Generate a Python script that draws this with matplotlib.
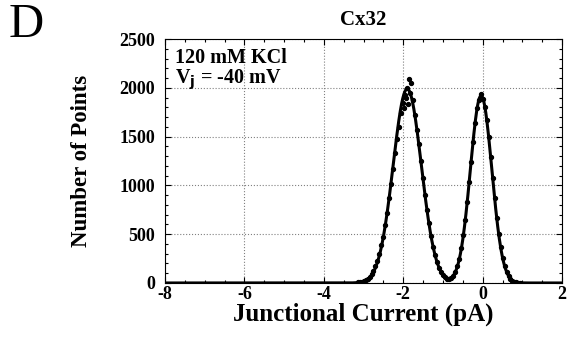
import matplotlib.pyplot as plt
import numpy as np
from matplotlib.ticker import MultipleLocator

# measured histogram points (junctional current, counts)
x_pts = [-3.15, -3.10, -3.05, -3.00, -2.95, -2.90, -2.85, -2.80, -2.75, -2.70,
         -2.65, -2.60, -2.55, -2.50, -2.45, -2.40, -2.35, -2.30, -2.25, -2.20,
         -2.15, -2.10, -2.05, -2.00, -1.95, -1.90, -1.85, -1.80, -1.75, -1.70,
         -1.65, -1.60, -1.55, -1.50, -1.45, -1.40, -1.35, -1.30, -1.25, -1.20,
         -1.15, -1.10, -1.05, -1.00, -0.95, -0.90, -0.85, -0.80, -0.75, -0.70,
         -0.65, -0.60, -0.55, -0.50, -0.45, -0.40, -0.35, -0.30, -0.25, -0.20,
         -0.15, -0.10, -0.05, 0.00, 0.05, 0.10, 0.15, 0.20, 0.25, 0.30,
         0.35, 0.40, 0.45, 0.50, 0.55, 0.60, 0.65, 0.70, 0.75, 0.80,
         0.85, 0.90, 0.95, -1.92, -1.83, -1.97, -1.88]
y_pts = [5, 8, 12, 18, 28, 42, 60, 88, 120, 170,
         225, 300, 390, 470, 590, 720, 870, 1010, 1170, 1330,
         1480, 1600, 1740, 1840, 1930, 2000, 2090, 2050, 1880, 1720,
         1570, 1420, 1250, 1080, 905, 750, 610, 480, 370, 285,
         210, 155, 112, 80, 60, 45, 38, 48, 75, 115,
         175, 250, 360, 490, 650, 830, 1030, 1240, 1450, 1640,
         1790, 1880, 1940, 1890, 1800, 1670, 1500, 1290, 1080, 870,
         670, 500, 365, 255, 170, 110, 70, 42, 25, 14,
         7, 3, 1, 1900, 1950, 1790, 1830]

# two-gaussian fit: amplitude, mean, sigma
fit_amp = [1990, 1920]
fit_mean = [-1.90, -0.04]
fit_sigma = [0.355, 0.27]

x_fit = np.linspace(-8, 2, 1000)
y_fit = np.zeros_like(x_fit)
for a, m, s in zip(fit_amp, fit_mean, fit_sigma):
    y_fit += a * np.exp(-(x_fit - m) ** 2 / (2 * s ** 2))

plt.rcParams['font.family'] = 'Liberation Serif'
plt.rcParams['font.weight'] = 'bold'
plt.rcParams['axes.unicode_minus'] = False

fig = plt.figure(figsize=(5.73, 3.43), dpi=100)
ax = fig.add_axes([0.288, 0.175, 0.693, 0.711])

ax.plot(x_fit, y_fit, color='black', lw=2.2, zorder=3)
ax.scatter(x_pts, y_pts, s=8, color='black', zorder=4)

ax.set_xlim(-8, 2)
ax.set_ylim(0, 2500)
ax.set_xticks([-8, -6, -4, -2, 0, 2])
ax.set_yticks([0, 500, 1000, 1500, 2000, 2500])
ax.xaxis.set_minor_locator(MultipleLocator(0.5))
ax.yaxis.set_minor_locator(MultipleLocator(100))
ax.tick_params(which='both', direction='in', top=True, right=True,
               labelsize=13, width=0.8)
ax.tick_params(which='major', length=4)
ax.tick_params(which='minor', length=2)
ax.tick_params(axis='y', pad=7)
ax.tick_params(axis='x', pad=2)
for lab in ax.get_xticklabels() + ax.get_yticklabels():
    lab.set_fontweight('bold')
ax.grid(True, which='major', color='gray', linestyle=':', linewidth=0.8)

ax.set_xlabel("Junctional Current (pA)", fontsize=18, fontweight='bold', labelpad=0)
ax.set_ylabel("Number of Points", fontsize=16.5, fontweight='bold', labelpad=20)
ax.set_title("Cx32", fontsize=15, fontweight='bold', pad=10)

ax.text(0.025, 0.965, "120 mM KCl\nV$_\\mathbf{j}$ = -40 mV", transform=ax.transAxes,
        fontsize=14.5, fontweight='bold', va='top', ha='left', linespacing=1.0)

fig.text(0.015, 0.99, "D", fontsize=35, fontweight='normal', va='top', ha='left')

fig.savefig("out.png", dpi=100)
